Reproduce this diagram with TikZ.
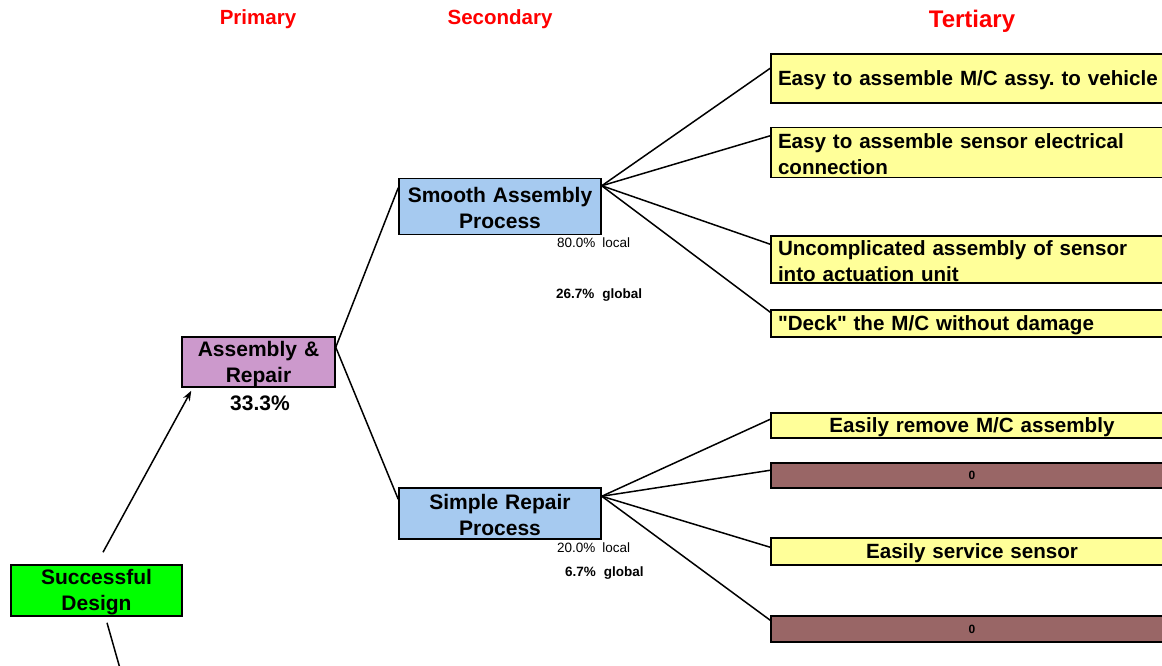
\documentclass[tikz,border=0pt]{standalone}
\usepackage{fontspec}
\setmainfont{Liberation Sans}[Ligatures=TeXOff]
\usetikzlibrary{arrows.meta}
\definecolor{goalgreen}{HTML}{00FF00}
\definecolor{primpurple}{HTML}{CC99CC}
\definecolor{secblue}{HTML}{A6CAF0}
\definecolor{teryellow}{HTML}{FFFF99}
\definecolor{terbrown}{HTML}{996666}
\definecolor{headred}{HTML}{FF0000}
% taller first line, so the text sits slightly low in its box
\newcommand\firstlinestrut{\rule{0pt}{19pt}}
\frenchspacing
\begin{document}
\begin{tikzpicture}[x=1pt,y=-1pt,
  box/.style={draw=black, line width=1.5pt, inner sep=0pt, align=center,
    font=\fontsize{21}{26}\selectfont\bfseries, execute at begin node=\firstlinestrut},
  terbox/.style={box, fill=teryellow, minimum width=402pt, text width=388pt,
    font=\fontsize{20.6}{26}\selectfont\bfseries},
  emptybox/.style={draw=black, line width=1.5pt, inner sep=0pt, fill=terbrown,
    minimum width=402pt, text width=388pt, align=center,
    font=\fontsize{12}{14}\selectfont\bfseries},
  header/.style={text=headred, font=\fontsize{20.5}{24}\selectfont\bfseries},
  pct/.style={inner sep=0pt, anchor=west, font=\fontsize{13.5}{15}\selectfont},
  pctbold/.style={pct, font=\fontsize{13.5}{15}\selectfont\bfseries},
  link/.style={draw=black, line width=1.5pt},
]
\useasboundingbox (0,0) rectangle (1162,665);

% column headings
\node[header] (hp) at (258,19.5) {Primary};
\node[header] (hs) at (500,19.5) {Secondary};
\node[header, font=\fontsize{24}{28}\selectfont\bfseries] (ht) at (972,21.5) {Tertiary};

% goal and primary criterion
\node[box, fill=goalgreen, minimum width=171pt, text width=165pt, minimum height=51pt] (sd) at (96.5,590.5) {Successful\\Design};
\node[box, fill=primpurple, minimum width=153pt, text width=148pt, minimum height=50pt] (ar) at (258.5,362) {Assembly \&\\Repair};
\node[inner sep=0pt, font=\fontsize{21}{24}\selectfont\bfseries] (arw) at (260,403) {33.3\%};

% secondary criteria
\node[box, fill=secblue, minimum width=202pt, text width=196pt, minimum height=56pt,
  execute at begin node={}] (sm) at (500,206.5) {Smooth Assembly\\Process};
\node[box, fill=secblue, minimum width=202pt, text width=196pt, minimum height=51pt] (sr) at (500,513.5) {Simple Repair\\Process};

\node[pct] (smloc) at (557,242.5) {80.0\%\hspace{7pt}local};
\node[pctbold] (smglo) at (556,295.5) {26.7\%\hspace{8pt}global};
\node[pct] (srloc) at (557,547.5) {20.0\%\hspace{7pt}local};
\node[pctbold] (srglo) at (565,573.5) {6.7\%\hspace{8pt}global};

% tertiary criteria
\node[terbox, align=left, minimum height=49pt] (t1) at (972,78.5) {Easy to assemble M/C assy. to vehicle};
\node[terbox, align=left, minimum height=50pt] (t2) at (972,152.5) {Easy to assemble sensor electrical\\connection};
\node[terbox, align=left, minimum height=47pt] (t3) at (972,259.5) {Uncomplicated assembly of sensor\\into actuation unit};
\node[terbox, align=left, minimum height=27pt] (t4) at (972,323.5) {"Deck" the M/C without damage};
\node[terbox, minimum height=25pt] (t5) at (972,425.5) {Easily remove M/C assembly};
\node[emptybox, minimum height=25pt] (t6) at (972,475.5) {0};
\node[terbox, minimum height=27pt] (t7) at (972,551.5) {Easily service sensor};
\node[emptybox, minimum height=26pt] (t8) at (972,629) {0};

% connector end points
\coordinate (goalup) at ([shift={(6.5pt,12pt)}]sd.north);
\coordinate (goaldown) at ([shift={(10.5pt,-6pt)}]sd.south);
\coordinate (below) at (121,672);
\coordinate (arout) at ([yshift=-11pt]ar.north east);
\coordinate (smout) at ([yshift=-8pt]sm.north east);
\coordinate (srout) at ([yshift=-9pt]sr.north east);

\draw[link, -{Stealth[length=10pt,width=7.5pt]}] (goalup) -- ([shift={(10pt,-3pt)}]ar.south west);
\draw[link] (goaldown) -- (below);

\draw[link] (arout) -- ([yshift=-10pt]sm.north west);
\draw[link] (arout) -- ([yshift=-12pt]sr.north west);

\draw[link] (smout) -- ([yshift=-15pt]t1.north west);
\draw[link] (smout) -- ([yshift=-9pt]t2.north west);
\draw[link] (smout) -- ([yshift=-9pt]t3.north west);
\draw[link] (smout) -- ([yshift=-3pt]t4.north west);

\draw[link] (srout) -- ([yshift=-7pt]t5.north west);
\draw[link] (srout) -- ([yshift=-8pt]t6.north west);
\draw[link] (srout) -- ([yshift=-10pt]t7.north west);
\draw[link] (srout) -- ([yshift=-5pt]t8.north west);
\end{tikzpicture}
\end{document}
